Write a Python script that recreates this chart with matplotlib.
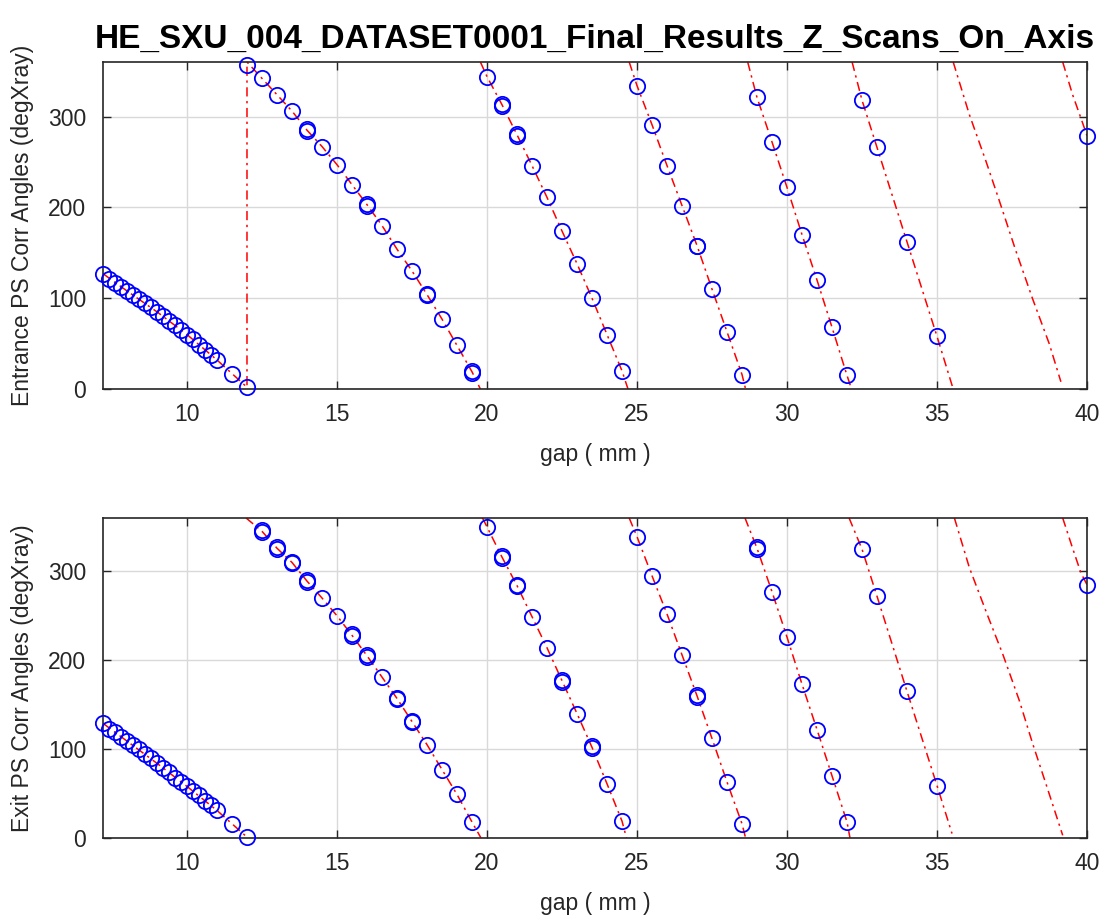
import numpy as np
import matplotlib
matplotlib.use("Agg")
import matplotlib.pyplot as plt

plt.rcParams['font.family'] = ['Liberation Sans', 'DejaVu Sans']

nan = np.nan

# measured gaps (mm) and phase angles (degXray), entrance plot
entr_gap = [7.2, 7.4, 7.6, 7.8, 8.0, 8.2, 8.4, 8.6, 8.8, 9.0, 9.2, 9.4, 9.6, 9.8,
            10.0, 10.2, 10.4, 10.6, 10.8, 11.0, 11.5, 12.0,
            12.0, 12.5, 13.0, 13.5, 14.0, 14.0, 14.5, 15.0, 15.5, 16.0, 16.0, 16.5,
            17.0, 17.5, 18.0, 18.0, 18.5, 19.0, 19.5, 19.5,
            20.0, 20.5, 20.5, 21.0, 21.0, 21.5, 22.0, 22.5, 23.0, 23.5, 24.0, 24.5,
            25.0, 25.5, 26.0, 26.5, 27.0, 27.0, 27.5, 28.0, 28.5,
            29.0, 29.5, 30.0, 30.5, 31.0, 31.5, 32.0,
            32.5, 33.0, 34.0, 35.0, 40.0]
entr_angle = [127, 121, 117, 112, 108, 104, 99, 95, 90, 85, 80, 75, 70, 65,
              60, 55, 49, 43, 38, 32, 17, 2,
              357, 342, 324, 306, 286, 284, 267, 247, 225, 204, 202, 180,
              154, 130, 105, 103, 77, 48, 20, 18,
              344, 314, 312, 281, 279, 246, 211, 174, 138, 100, 60, 20,
              334, 291, 246, 202, 158, 157, 110, 63, 16,
              321, 272, 222, 170, 120, 68, 15,
              318, 266, 162, 58, 279]

# fitted curve, entrance plot (NaN where the phase wraps)
entr_fit_gap = [7.2, 8.0, 9.0, 10.0, 11.0, 11.5, 12.0, 12.0, 12.5, 13.0, 13.5, 14.0,
                14.5, 15.0, 15.5, 16.0, 16.5, 17.0, 17.5, 18.0, 18.5, 19.0, 19.5, 19.78, nan,
                19.78, 20.0, 20.5, 21.0, 21.5, 22.0, 22.5, 23.0, 23.5, 24.0, 24.5, 24.7, nan,
                24.74, 25.0, 25.5, 26.0, 26.5, 27.0, 27.5, 28.0, 28.5, 28.62, nan,
                28.69, 29.0, 29.5, 30.0, 30.5, 31.0, 31.5, 32.0, 32.15, nan,
                32.17, 32.5, 33.0, 33.5, 34.0, 34.5, 35.0, 35.54, nan,
                35.54, 36.08, 36.63, 37.08, 37.63, 38.19, 38.74, 39.13, nan,
                39.19, 39.52, 39.8, 40.0]
entr_fit_angle = [127, 108, 85, 60, 32, 17, 2, 360, 342, 324, 306, 285,
                  267, 247, 225, 203, 180, 154, 130, 104, 77, 48, 19, 0, nan,
                  360, 344, 313, 280, 246, 211, 174, 138, 100, 60, 20, 0, nan,
                  360, 334, 291, 246, 202, 158, 110, 63, 16, 0, nan,
                  360, 321, 272, 222, 170, 120, 68, 15, 0, nan,
                  360, 318, 266, 214, 162, 110, 58, 0, nan,
                  360, 302, 251, 207, 152, 99, 50, 8, nan,
                  360, 324, 298, 279]

# measured gaps (mm) and phase angles (degXray), exit plot
exit_gap = [7.2, 7.4, 7.6, 7.8, 8.0, 8.2, 8.4, 8.6, 8.8, 9.0, 9.2, 9.4, 9.6, 9.8,
            10.0, 10.2, 10.4, 10.6, 10.8, 11.0, 11.5, 12.0,
            12.5, 12.5, 13.0, 13.0, 13.5, 13.5, 14.0, 14.0, 14.5, 15.0, 15.5, 15.5,
            16.0, 16.0, 16.5, 17.0, 17.0, 17.5, 17.5, 18.0, 18.5, 19.0, 19.5,
            20.0, 20.5, 20.5, 21.0, 21.0, 21.5, 22.0, 22.5, 22.5, 23.0, 23.5, 23.5,
            24.0, 24.5,
            25.0, 25.5, 26.0, 26.5, 27.0, 27.0, 27.5, 28.0, 28.5,
            29.0, 29.0, 29.5, 30.0, 30.5, 31.0, 31.5, 32.0,
            32.5, 33.0, 34.0, 35.0, 40.0]
exit_angle = [129, 123, 119, 114, 109, 105, 100, 95, 90, 84, 79, 74, 68, 63,
              58, 53, 48, 42, 37, 31, 16, 1,
              346, 344, 327, 325, 311, 309, 290, 288, 270, 250, 229, 227,
              206, 204, 181, 158, 156, 132, 130, 105, 77, 49, 18,
              350, 317, 315, 285, 283, 249, 214, 178, 176, 140, 103, 101,
              61, 19,
              339, 295, 252, 206, 161, 159, 112, 63, 16,
              327, 325, 277, 226, 173, 122, 70, 18,
              325, 272, 165, 59, 285]

# fitted curve, exit plot
exit_fit_gap = [7.2, 8.0, 9.0, 10.0, 11.0, 11.5, 12.0, nan,
                11.97, 12.5, 13.0, 13.5, 14.0, 14.5, 15.0, 15.5, 16.0, 16.5, 17.0,
                17.5, 18.0, 18.5, 19.0, 19.5, 19.8, nan,
                19.85, 20.0, 20.5, 21.0, 21.5, 22.0, 22.5, 23.0, 23.5, 24.0, 24.5, 24.65, nan,
                24.74, 25.0, 25.5, 26.0, 26.5, 27.0, 27.5, 28.0, 28.5, 28.62, nan,
                28.6, 29.0, 29.5, 30.0, 30.5, 31.0, 31.5, 32.0, 32.1, nan,
                32.07, 32.5, 33.0, 34.0, 35.0, 35.5, nan,
                35.58, 36.08, 36.69, 37.19, 37.74, 38.19, 38.63, 39.19, nan,
                39.19, 39.5, 39.8, 40.0]
exit_fit_angle = [129, 109, 84, 58, 31, 16, 1, nan,
                  360, 345, 326, 310, 289, 270, 250, 228, 205, 181, 157,
                  131, 105, 77, 49, 18, 0, nan,
                  360, 350, 316, 284, 249, 214, 177, 140, 102, 61, 19, 0, nan,
                  360, 339, 295, 252, 206, 160, 112, 63, 16, 0, nan,
                  360, 326, 277, 226, 173, 122, 70, 18, 0, nan,
                  360, 325, 272, 165, 59, 5, nan,
                  360, 304, 250, 207, 155, 106, 61, 3, nan,
                  360, 328, 298, 285]

title = 'HE_SXU_004_DATASET0001_Final_Results_Z_Scans_On_Axis'
xticks = [10, 15, 20, 25, 30, 35, 40]
yticks = [0, 100, 200, 300]

axis_gray = '#262626'

fig = plt.figure(figsize=(11.11, 9.23), dpi=100)
ax1 = fig.add_axes([0.0927, 0.5785, 0.8857, 0.3543])
ax2 = fig.add_axes([0.0927, 0.0921, 0.8857, 0.3467])


def style_axis(ax, gap, angle, fit_gap, fit_angle, ylabel):
    ax.plot(fit_gap, fit_angle, color='red', lw=1.1,
            linestyle=(0, (6, 3, 1.5, 3)), zorder=2)
    ax.plot(gap, angle, 'o', mfc='none', mec='blue', ms=11, mew=1.3,
            clip_on=False, zorder=3)
    ax.set_xlim(7.2, 40)
    ax.set_ylim(0, 360)
    ax.set_xticks(xticks)
    ax.set_yticks(yticks)
    ax.grid(True, color='#d9d9d9', lw=1)
    ax.set_axisbelow(True)
    ax.tick_params(direction='in', top=True, right=True, length=6, width=1,
                   colors=axis_gray, labelsize=16.5, labelcolor=axis_gray)
    ax.tick_params(axis='x', pad=10)
    ax.tick_params(axis='y', pad=12)
    for sp in ax.spines.values():
        sp.set_color(axis_gray)
        sp.set_linewidth(1.2)
    ax.set_xlabel('gap ( mm )', fontsize=16.5, color=axis_gray, labelpad=12)
    ax.set_ylabel(ylabel, fontsize=16.5, color=axis_gray, labelpad=10)


style_axis(ax1, entr_gap, entr_angle, entr_fit_gap, entr_fit_angle,
           'Entrance PS Corr Angles (degXray)')
style_axis(ax2, exit_gap, exit_angle, exit_fit_gap, exit_fit_angle,
           'Exit PS Corr Angles (degXray)')
ax1.set_title(title, fontsize=24, fontweight='bold', pad=10)

fig.savefig('out.png', dpi=100)
